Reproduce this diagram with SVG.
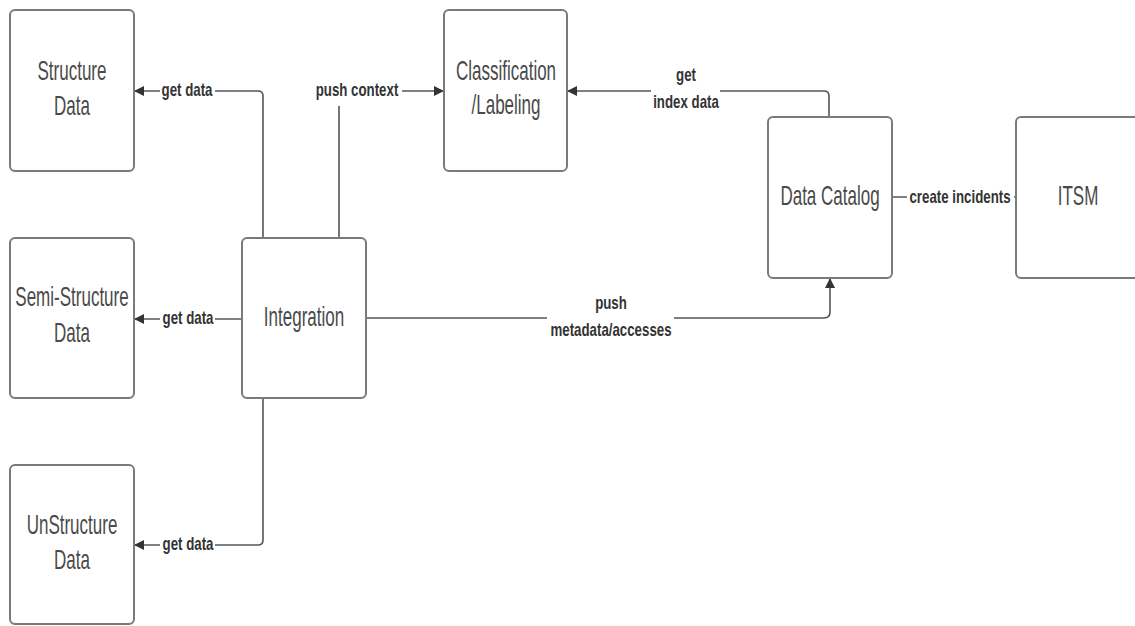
<svg xmlns="http://www.w3.org/2000/svg" width="1135" height="626" viewBox="0 0 1135 626">
<style>
.box{fill:#fff;stroke:#7a7a7a;stroke-width:2}
.n{font-family:"Liberation Sans",Arial,sans-serif;font-size:27px;fill:#4a4a4a;text-anchor:middle}
.l{font-family:"Liberation Sans",Arial,sans-serif;font-size:19px;font-weight:bold;fill:#333;text-anchor:middle}
.c{fill:none;stroke:#555;stroke-width:1.6}
.bg{fill:#fff}
</style>
<defs>
<marker id="ah" viewBox="0 0 10 10" refX="10" refY="5" markerWidth="12" markerHeight="10" markerUnits="userSpaceOnUse" orient="auto">
<path d="M0,0 L10,5 L0,10 Z" fill="#333"/>
</marker>
</defs>
<g id="connectors">
<path class="c" d="M263,238 V96 Q263,91 258,91 H134" marker-end="url(#ah)"/>
<path class="c" d="M339,238 V91 H444" marker-end="url(#ah)"/>
<path class="c" d="M829,117 V96 Q829,91 824,91 H567" marker-end="url(#ah)"/>
<path class="c" d="M242,319 H134" marker-end="url(#ah)"/>
<path class="c" d="M263,398 V540 Q263,545 258,545 H134" marker-end="url(#ah)"/>
<path class="c" d="M366,318 H824 Q830,318 830,312 V278" marker-end="url(#ah)"/>
<path class="c" d="M892,197 H1016"/>
<rect class="bg" x="160" y="80" width="55" height="22"/>
<text class="l" transform="translate(187,96) scale(0.7,1)">get data</text>
<rect class="bg" x="313" y="78" width="89" height="28"/>
<text class="l" transform="translate(357,96) scale(0.7,1)">push context</text>
<rect class="bg" x="651" y="64" width="69" height="50"/>
<text class="l" transform="translate(686,81) scale(0.7,1)">get</text>
<text class="l" transform="translate(686,108) scale(0.7,1)">index data</text>
<rect class="bg" x="160" y="308" width="55" height="22"/>
<text class="l" transform="translate(188,324) scale(0.7,1)">get data</text>
<rect class="bg" x="160" y="534" width="55" height="22"/>
<text class="l" transform="translate(188,550) scale(0.7,1)">get data</text>
<rect class="bg" x="547" y="291" width="127" height="50"/>
<text class="l" transform="translate(611,309) scale(0.7,1)">push</text>
<text class="l" transform="translate(611,336) scale(0.7,1)">metadata/accesses</text>
<rect class="bg" x="907" y="186" width="107" height="22"/>
<text class="l" transform="translate(960,203) scale(0.7,1)">create incidents</text>
</g>
<g id="structure">
<rect class="box" x="10" y="10" width="124" height="161" rx="5"/>
<text class="n" transform="translate(72,80) scale(0.63,1)">Structure</text>
<text class="n" transform="translate(72,115) scale(0.63,1)">Data</text>
</g>
<g id="semi-structure">
<rect class="box" x="10" y="238" width="124" height="160" rx="5"/>
<text class="n" transform="translate(72,306) scale(0.63,1)">Semi-Structure</text>
<text class="n" transform="translate(72,342) scale(0.63,1)">Data</text>
</g>
<g id="unstructure">
<rect class="box" x="10" y="465" width="124" height="159" rx="5"/>
<text class="n" transform="translate(72,534) scale(0.63,1)">UnStructure</text>
<text class="n" transform="translate(72,569) scale(0.63,1)">Data</text>
</g>
<g id="integration">
<rect class="box" x="242" y="238" width="124" height="160" rx="5"/>
<text class="n" transform="translate(304,326) scale(0.63,1)">Integration</text>
</g>
<g id="classification">
<rect class="box" x="444" y="10" width="123" height="161" rx="5"/>
<text class="n" transform="translate(506,80) scale(0.63,1)">Classification</text>
<text class="n" transform="translate(506,114) scale(0.63,1)">/Labeling</text>
</g>
<g id="data-catalog">
<rect class="box" x="768" y="117" width="124" height="161" rx="5"/>
<text class="n" transform="translate(830,205) scale(0.63,1)">Data Catalog</text>
</g>
<g id="itsm">
<rect class="box" x="1016" y="117" width="130" height="161" rx="5"/>
<text class="n" transform="translate(1078,205) scale(0.63,1)">ITSM</text>
</g>
</svg>
